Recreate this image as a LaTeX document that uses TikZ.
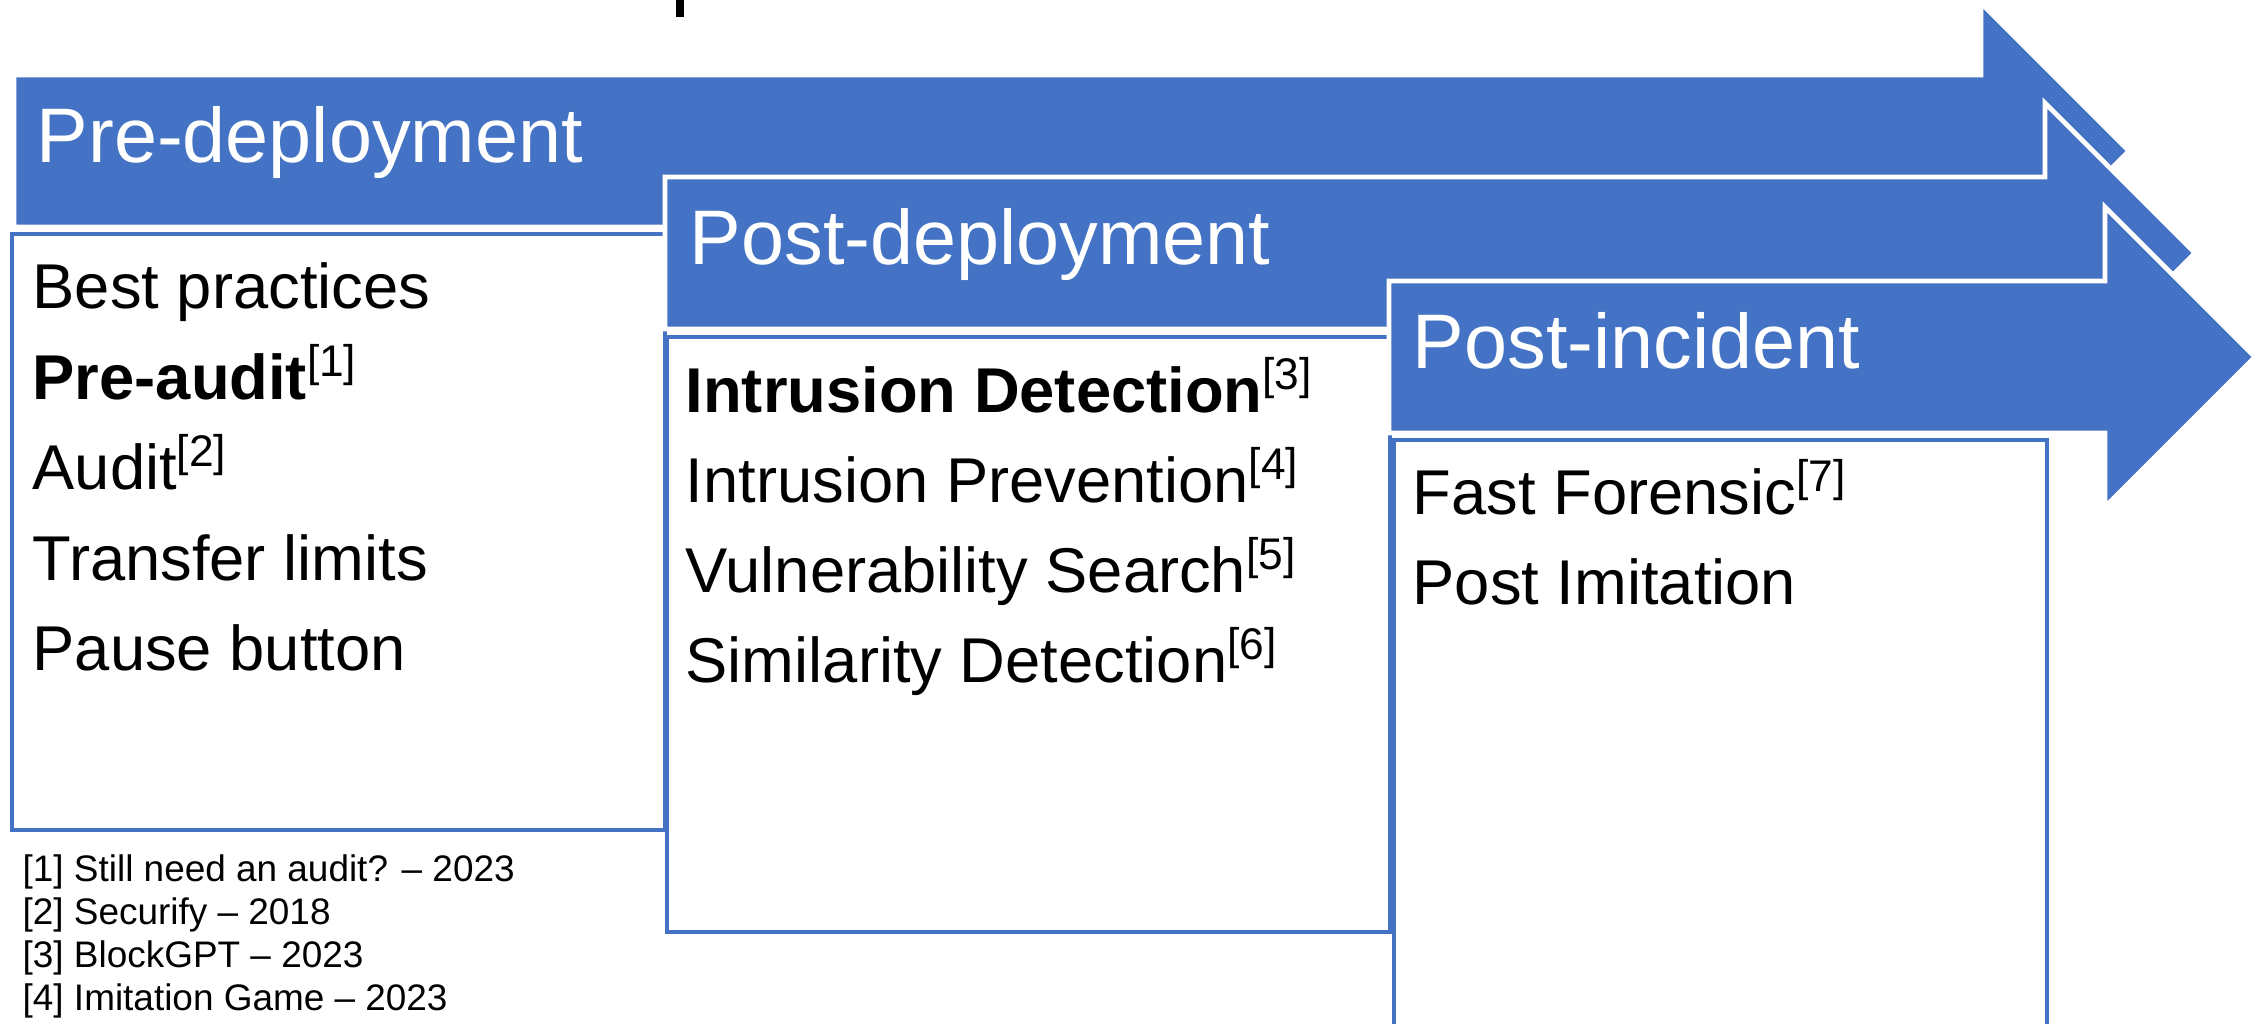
\documentclass[tikz,border=0pt]{standalone}
\usepackage{fontspec}
\setmainfont{Liberation Sans}
\usepackage{tikz}

\definecolor{phaseblue}{RGB}{68,114,196}
\newcommand{\refno}[1]{\textsuperscript{[#1]}}

\begin{document}
\begin{tikzpicture}[x=0.01cm, y=-0.01cm,
		arrow_style/.style={fill=phaseblue,draw=white,line width=1.4pt,line join=miter},
		box_style/.style={draw=phaseblue,fill=white,line width=1.4pt},
		head_style/.style={anchor=base west,inner sep=0pt,text=white,font=\fontsize{22}{26}\selectfont},
		item_style/.style={anchor=base west,inner sep=0pt,font=\fontsize{18}{22}\selectfont},
		note_style/.style={anchor=base west,inner sep=0pt,font=\fontsize{10.5}{12}\selectfont}]
		
		\useasboundingbox (0,0) rectangle (2267,1023);
		\clip (0,0) rectangle (2267,1023);
		
		% stub at the top edge
		\fill[black] (676,0) rectangle (684,17);
		
		% phase 1
		\draw[arrow_style] (14,75) -- (1981,75) -- (1981,3) -- (2129,151) -- (1981,299) -- (1981,227) -- (14,227) -- cycle;
		\draw[box_style] (12,234) rectangle (665,830);
		
		% phase 2
		\draw[arrow_style] (665,177) -- (2045,177) -- (2045,103) -- (2195,253) -- (2045,403) -- (2045,329) -- (665,329) -- cycle;
		\draw[box_style] (667,337) rectangle (1390,932);
		
		% phase 3
		\draw[arrow_style] (1389,281) -- (2105,281) -- (2105,207) -- (2255,357) -- (2105,507) -- (2105,433) -- (1389,433) -- cycle;
		\draw[box_style] (1394,440) rectangle (2047,1100);
		
		\node[head_style] (pre_head) at (36,162) {Pre-deployment};
		\node[head_style] (post_head) at (689,264) {Post-deployment};
		\node[head_style] (inc_head) at (1412,368) {Post-incident};
		
		\node[item_style] (pre_best) at (32,308) {Best practices};
		\node[item_style] (pre_preaudit) at (32,399) {\textbf{Pre-audit}\refno{1}};
		\node[item_style] (pre_audit) at (32,489) {Audit\refno{2}};
		\node[item_style] (pre_limits) at (32,580) {Transfer limits};
		\node[item_style] (pre_pause) at (32,670) {Pause button};
		
		\node[item_style] (post_detect) at (685,412) {\textbf{Intrusion Detection}\refno{3}};
		\node[item_style] (post_prevent) at (685,502) {Intrusion Prevention\refno{4}};
		\node[item_style] (post_vuln) at (685,592) {Vulnerability Search\refno{5}};
		\node[item_style] (post_sim) at (685,682) {Similarity Detection\refno{6}};
		
		\node[item_style] (inc_forensic) at (1412,514) {Fast Forensic\refno{7}};
		\node[item_style] (inc_imit) at (1412,604) {Post Imitation};
		
		\node[note_style] (note1) at (22,881) {[1] Still need an audit? -- 2023};
		\node[note_style] (note2) at (22,924) {[2] Securify -- 2018};
		\node[note_style] (note3) at (22,967) {[3] BlockGPT -- 2023};
		\node[note_style] (note4) at (22,1010) {[4] Imitation Game -- 2023};
		
\end{tikzpicture}
\end{document}
